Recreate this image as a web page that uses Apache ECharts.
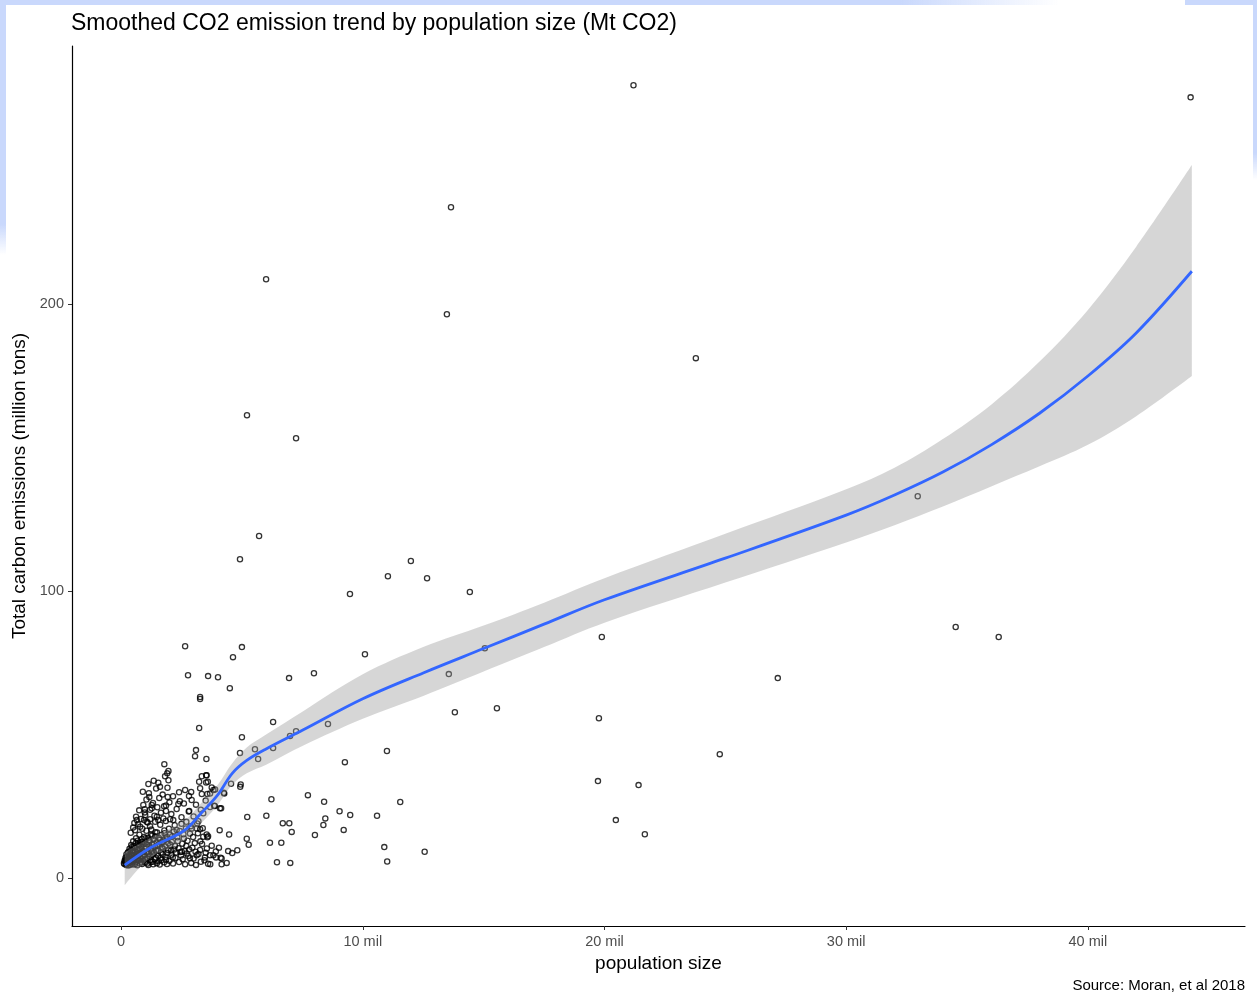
<!DOCTYPE html>
<html>
<head>
<meta charset="utf-8">
<script src="https://cdn.jsdelivr.net/npm/echarts@6/dist/echarts.min.js"></script>
<style>
  html, body { margin: 0; padding: 0; background: #ffffff; }
  #chart { position: absolute; left: 0; top: 0; width: 1257px; height: 1001px; }
  .deco { position: absolute; background: #c9d8fc; z-index: 5; pointer-events: none; }
</style>
</head>
<body>
<div id="chart"></div>
<div class="deco" style="left:0;top:0;width:1060px;height:5px;background:linear-gradient(to right,#c9d8fc 85%,rgba(201,216,252,0));"></div>
<div class="deco" style="left:1185px;top:0;width:72px;height:5px;"></div>
<div class="deco" style="left:1253px;top:0;width:4px;height:180px;background:linear-gradient(to bottom,#c9d8fc 85%,rgba(201,216,252,0));"></div>
<div class="deco" style="left:0;top:0;width:6px;height:255px;background:linear-gradient(to bottom,#c9d8fc 88%,rgba(201,216,252,0));"></div>
<script>
// ---- Data (population in millions, emissions in Mt CO2) ----
const cityPoints = [
  // outliers and mid-range
  [21.2,276.3],[44.25,272.1],[13.65,233.8],[6.0,208.7],[13.48,196.5],[23.78,181.2],[5.21,161.3],[7.24,153.3],
  [32.96,133.1],[5.71,119.2],[4.92,111.1],[11.99,110.5],[11.04,105.2],[12.66,104.5],[14.43,99.7],[9.47,99.0],
  [34.53,87.5],[19.89,84.0],[36.31,84.0],[2.65,80.8],[5.0,80.5],[15.05,80.1],[10.09,78.0],[4.63,77.0],
  [2.77,70.7],[3.6,70.4],[4.01,70.0],[7.98,71.4],[13.56,71.1],[6.95,69.7],[27.17,69.7],[4.5,66.2],
  [3.27,63.1],[3.27,62.4],[13.81,57.8],[15.55,59.2],[19.77,55.7],[6.29,54.4],[3.23,52.3],[8.56,53.7],
  [6.99,49.5],[7.24,51.2],[5.0,49.1],[3.1,44.6],[5.54,44.9],[6.29,45.3],[11.0,44.3],[4.92,43.6],
  [24.77,43.2],[5.67,41.5],[9.26,40.4],[21.41,32.4],[19.73,33.8],[3.06,42.5],[3.53,41.5],
  [20.47,20.2],[21.67,15.3],
  // 3-12 mil band
  [3.52,35.8],[3.52,33.3],[3.75,31.6],[3.82,30.7],[3.57,29.3],[4.25,29.7],[4.55,32.9],[4.95,32.6],[4.93,31.8],
  [3.88,25.1],[4.14,24.3],[6.22,27.5],[7.73,28.9],[8.4,26.6],[11.55,26.5],[5.22,21.3],[6.01,21.7],
  [6.69,19.1],[6.96,19.1],[7.06,16.1],[8.45,20.8],[8.37,18.5],[9.04,23.3],[9.48,22.0],[10.59,21.7],
  [8.02,15.0],[9.21,16.8],[4.08,16.7],[4.47,15.2],[3.6,14.6],[5.28,11.6],[6.16,12.3],[6.63,12.3],
  [10.89,10.8],[12.56,9.2],[6.45,5.5],[7.0,5.3],[11.01,5.8],[3.75,11.3],[4.05,10.6],[3.92,9.3],
  [3.82,8.0],[4.43,9.4],[4.6,8.7],[4.81,9.7],[3.47,7.2],[4.12,7.1],[3.69,4.8],[4.16,4.8],[4.37,5.3],
  [5.2,13.7],[3.68,8.0],[3.93,7.2],[4.16,6.8],
  // 1-3.5 mil, upper part
  [1.79,39.7],[1.96,37.3],[1.91,36.5],[1.82,35.5],[1.96,34.1],[1.35,33.9],[1.54,33.2],[1.61,31.8],
  [1.13,32.8],[0.9,30.1],[1.17,28.3],[1.93,28.3],[2.65,30.7],[2.81,28.6],[2.43,26.8],[2.37,25.8],
  [2.92,27.2],[1.27,25.5],[1.27,24.3],[0.98,24.0],[0.98,22.9],[1.86,25.3],[1.86,23.4],
  [3.34,35.5],[3.54,35.8],[3.23,33.6],[3.59,33.6],[3.27,31.3],[3.34,29.3],[3.68,29.5],[3.89,30.9],
  [4.27,29.5],[3.85,25.2],[4.09,24.3],[2.82,23.4],[3.3,23.8],[3.68,24.8],[1.48,21.4],[1.41,19.6],
  [1.54,20.2],[1.75,20.8],[2.03,20.5],[2.16,20.2],[0.95,20.2],[1.06,19.6],[1.2,20.5],[0.65,20.2],
  [0.79,17.9],[0.58,16.7],[2.92,17.3],[3.13,17.3],[3.27,17.0],[3.4,14.4],[3.54,15.2],[3.57,14.2],
  [3.27,9.8],[3.13,8.0],[2.85,6.9],[2.72,8.6],[2.51,9.2],
  // dense cluster near origin
  [0.12,5.2],[0.15,6.1],[0.18,7.0],[0.2,5.6],[0.22,8.2],[0.25,4.8],[0.27,6.6],[0.3,9.1],[0.31,5.3],
  [0.33,7.5],[0.35,10.2],[0.37,4.6],[0.38,6.0],[0.4,8.4],[0.42,11.5],[0.44,5.0],[0.46,7.1],[0.48,9.6],
  [0.5,12.8],[0.52,4.7],[0.53,6.4],[0.55,8.0],[0.57,10.6],[0.6,5.5],[0.62,13.9],[0.63,7.4],[0.65,9.0],
  [0.67,4.5],[0.7,11.8],[0.72,6.2],[0.74,8.6],[0.76,15.1],[0.78,5.1],[0.8,10.1],[0.82,7.0],[0.85,12.6],
  [0.87,4.9],[0.9,9.4],[0.92,6.1],[0.95,14.3],[0.97,8.1],[1.0,5.4],
  [1.02,11.0],[1.05,16.5],[1.08,6.9],[1.1,9.0],[1.13,4.6],[1.15,13.2],[1.18,7.6],[1.2,18.1],[1.23,5.6],
  [1.25,10.4],[1.28,14.8],[1.3,8.2],[1.33,4.8],[1.36,12.0],[1.4,6.6],[1.42,16.0],[1.45,9.6],[1.48,5.2],
  [1.5,11.3],[1.53,7.8],[1.56,14.1],[1.6,4.7],[1.62,18.6],[1.65,8.9],[1.68,6.3],[1.7,12.5],[1.74,10.2],
  [1.78,5.5],[1.8,15.6],[1.84,7.4],[1.88,13.5],[1.9,4.9],[1.94,9.8],[1.98,17.2],[2.0,6.0],[2.04,11.6],
  [2.08,8.1],[2.12,14.6],[2.15,5.1],[2.2,10.0],[2.25,7.0],[2.3,16.8],[2.35,12.9],[2.4,5.6],[2.45,9.1],
  [2.5,18.9],[2.55,6.6],[2.6,13.8],[2.65,4.8],[2.7,11.2],[2.78,7.7],[2.85,15.5],[2.9,5.3],[2.95,10.6],
  [3.0,6.8],[3.05,12.2],[3.1,4.6],[3.15,19.0],[3.2,8.4],[3.3,5.7],[3.35,11.9],[3.45,6.2],[3.55,10.3],[3.6,5.0],
  [0.4,15.8],[0.5,17.6],[0.55,19.2],[0.62,21.4],[0.7,18.8],[0.75,23.6],[0.82,20.6],[0.88,17.2],[0.92,25.5],
  [1.0,22.0],[1.05,27.4],[1.1,19.4],[1.15,29.6],[1.2,23.8],[1.25,16.9],[1.32,26.2],[1.38,21.7],[1.45,31.2],
  [1.5,24.7],[1.58,27.9],[1.65,22.8],[1.72,29.1],[1.78,25.0],[1.85,19.9],[1.92,31.5],[2.0,26.4],[2.08,22.3],
  [2.15,28.5],[2.22,18.4],[2.3,24.1],[2.4,29.9],[2.5,21.2],[2.6,26.0],[2.7,19.6],[2.8,23.2],[2.9,30.0],
  [3.0,21.5],[3.1,25.6],[3.2,19.8],[3.4,22.6],[3.5,27.0],
  [0.14,4.9],[0.16,5.8],[0.19,6.4],[0.21,4.6],[0.23,7.4],[0.26,5.9],[0.28,8.8],[0.29,4.4],[0.32,6.9],
  [0.34,8.0],[0.36,5.4],[0.39,9.7],[0.41,6.7],[0.43,7.9],[0.45,10.8],[0.47,5.8],[0.49,8.9],[0.51,6.1],
  [0.54,11.1],[0.56,7.2],[0.58,9.3],[0.59,4.9],[0.61,12.2],[0.64,8.3],[0.66,10.0],[0.68,6.5],[0.69,13.0],
  [0.71,7.8],[0.73,9.9],[0.75,11.4],[0.77,6.8],[0.79,12.4],[0.81,8.7],[0.83,5.7],[0.84,10.9],[0.86,13.6],
  [0.89,7.6],[0.91,11.7],[0.93,9.0],[0.96,12.0],[0.98,6.6],[1.01,13.9],[1.04,9.1],[1.07,11.8],[1.09,5.1],
  [1.12,14.1],[1.14,8.4],[1.17,10.9],[1.19,12.9],[1.22,6.3],[1.24,15.2],[1.27,9.3],[1.29,11.7],[1.31,5.7],
  [1.34,13.5],[1.37,8.9],[1.39,10.8],[1.41,14.6],[1.44,7.1],[1.47,12.4],[1.49,15.9],[1.52,9.7],[1.55,5.9],
  [1.58,11.9],[1.61,13.4],[1.63,7.0],[1.66,15.0],[1.69,10.7],[1.72,8.2],[1.76,13.1],[1.79,16.6],[1.82,11.0],
  [1.86,6.4],[1.89,14.3],[1.92,8.7],[1.96,12.1],[2.02,15.1],[2.06,9.6],[2.1,12.6],[2.14,7.2],[2.18,16.2],
  [2.23,11.2],[2.28,8.9],[2.33,14.2],[2.38,10.4],[2.43,16.4],[2.48,7.9],[2.53,12.0],[2.58,15.3],[2.63,9.5],
  [2.68,17.3],[2.75,13.0],[2.82,10.0],[2.88,18.1],[2.98,14.3],[3.08,9.2],[3.18,15.6],[3.28,12.8],[3.38,17.4],[3.5,8.8]
];

const smoothX     = [0.15, 1.2, 2.6, 3.3, 4.0, 4.6, 5.2, 6.0, 7.5, 10, 12.5, 15, 17.5, 20, 25, 30, 32, 34, 36, 38, 40, 42, 44.3];
const smoothY     = [4.5, 10.5, 16.5, 22.5, 29, 36.5, 41, 45, 51.5, 62.5, 71.5, 80, 88.5, 97, 111.5, 126.5, 133.5, 141.5, 151, 162, 175, 190, 211.5];
const ribbonUpper = [9, 14, 20, 26, 32.5, 40, 45.5, 50, 58, 71, 80.5, 88, 96, 104.5, 120, 135.5, 143, 153, 165, 180, 198, 220, 248.5];
const ribbonLower = [-2.5, 7, 13, 19, 25.5, 32.5, 36.5, 39.5, 46, 55.5, 63.5, 72, 80.5, 89, 103, 117, 123, 129.5, 136.5, 143.5, 151, 161, 175];

const xTickValues = [0, 10, 20, 30, 40];
const yTickValues = [0, 100, 200];

const titleText = 'Smoothed CO2 emission trend by population size (Mt CO2)';
const sourceText = 'Source: Moran, et al 2018';
const xAxisTitle = 'population size';
const yAxisTitle = 'Total carbon emissions (million tons)';

// ---- Chart ----
const FONT = '"Liberation Sans", Arial, Helvetica, sans-serif';
const SMOOTH = 0.35;
const chart = echarts.init(document.getElementById('chart'), null, { renderer: 'canvas' });

const ribbonData = smoothX.map((x, i) => [x, ribbonLower[i], ribbonUpper[i]]);

// Bezier path through pixel points (same style of smoothing as ECharts line smooth)
function smoothPath(pts, moveFirst) {
  const n = pts.length;
  const cpsPrev = [], cpsNext = [];
  for (let i = 0; i < n; i++) {
    if (i === 0 || i === n - 1) { cpsPrev.push(pts[i]); cpsNext.push(pts[i]); continue; }
    const p0 = pts[i - 1], p = pts[i], p1 = pts[i + 1];
    const vx = p1[0] - p0[0], vy = p1[1] - p0[1];
    const d0 = Math.hypot(p[0] - p0[0], p[1] - p0[1]);
    const d1 = Math.hypot(p1[0] - p[0], p1[1] - p[1]);
    const s = d0 + d1 || 1;
    cpsPrev.push([p[0] - vx * SMOOTH * d0 / s, p[1] - vy * SMOOTH * d0 / s]);
    cpsNext.push([p[0] + vx * SMOOTH * d1 / s, p[1] + vy * SMOOTH * d1 / s]);
  }
  let d = (moveFirst ? 'M' : 'L') + pts[0][0] + ' ' + pts[0][1];
  for (let i = 0; i < n - 1; i++) {
    const c1 = cpsNext[i], c2 = cpsPrev[i + 1], p = pts[i + 1];
    d += ' C' + c1[0] + ' ' + c1[1] + ' ' + c2[0] + ' ' + c2[1] + ' ' + p[0] + ' ' + p[1];
  }
  return d;
}

chart.setOption({
  animation: false,
  backgroundColor: '#ffffff',
  title: [
    { text: titleText, left: 71, top: 12, padding: 0,
      textStyle: { fontFamily: FONT, fontSize: 23, fontWeight: 'normal', color: '#000' } },
    { text: sourceText, right: 12, top: 978, padding: 0,
      textStyle: { fontFamily: FONT, fontSize: 15, fontWeight: 'normal', color: '#000' } }
  ],
  grid: { left: 72, right: 12, top: 46, bottom: 75, containLabel: false },
  xAxis: {
    type: 'value', min: -2.03, max: 46.5,
    name: xAxisTitle, nameLocation: 'middle', nameGap: 25,
    nameTextStyle: { fontFamily: FONT, fontSize: 19, color: '#000' },
    splitLine: { show: false },
    axisLine: { show: true, onZero: false, lineStyle: { color: '#000', width: 1.2 } },
    axisTick: { show: true, length: 4, customValues: xTickValues, lineStyle: { color: '#333', width: 1 } },
    axisLabel: { customValues: xTickValues, margin: 8, fontFamily: FONT, fontSize: 14.5, color: '#4d4d4d',
      formatter: v => v === 0 ? '0' : v + ' mil' }
  },
  yAxis: {
    type: 'value', min: -16.7, max: 290,
    name: yAxisTitle, nameLocation: 'middle', nameGap: 38, nameRotate: 90,
    nameTextStyle: { fontFamily: FONT, fontSize: 19, color: '#000' },
    splitLine: { show: false },
    axisLine: { show: true, onZero: false, lineStyle: { color: '#000', width: 1.2 } },
    axisTick: { show: true, length: 4, customValues: yTickValues, lineStyle: { color: '#333', width: 1 } },
    axisLabel: { customValues: yTickValues, margin: 8, fontFamily: FONT, fontSize: 14.5, color: '#4d4d4d' }
  },
  series: [
    {
      type: 'scatter', name: 'cities', data: cityPoints,
      symbol: 'circle', symbolSize: 5.2,
      itemStyle: { color: 'rgba(0,0,0,0)', borderColor: '#000', borderWidth: 1.3 },
      silent: true, z: 2
    },
    {
      type: 'custom', name: 'ribbon', data: ribbonData,
      encode: { x: 0, y: [1, 2] }, silent: true, z: 3,
      renderItem: function (params, api) {
        if (params.dataIndex !== 0) return null;
        const up = ribbonData.map(d => api.coord([d[0], d[2]]));
        const lo = ribbonData.map(d => api.coord([d[0], d[1]])).reverse();
        const pathData = smoothPath(up, true) + ' ' + smoothPath(lo, false) + ' Z';
        return { type: 'path', shape: { pathData: pathData },
                 style: { fill: 'rgba(153,153,153,0.4)', stroke: null } };
      }
    },
    {
      type: 'line', name: 'trend', data: smoothX.map((x, i) => [x, smoothY[i]]),
      smooth: SMOOTH, showSymbol: false, silent: true, z: 4,
      lineStyle: { color: '#3366FF', width: 2.8 }
    }
  ]
});
</script>
</body>
</html>
